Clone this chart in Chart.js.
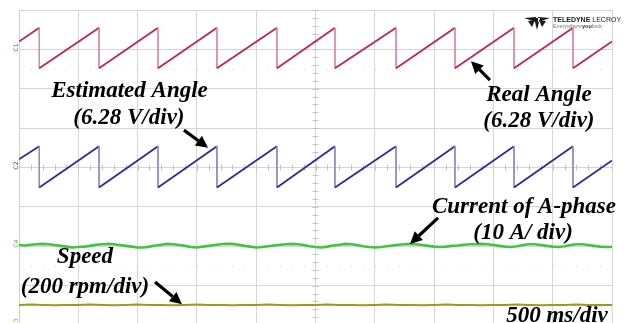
<!DOCTYPE html>
<html>
<head>
<meta charset="utf-8">
<script src="https://cdn.jsdelivr.net/npm/chart.js@4"></script>
<style>
  html, body { margin: 0; padding: 0; background: #fff; overflow: hidden; }
  #wrap { position: relative; width: 627px; height: 345px; }
</style>
</head>
<body>
<div id="wrap"><canvas id="scope" width="627" height="345"></canvas></div>
<script>
// time axis in ms, 500 ms/div, 10 divisions; vertical values in divisions
const xTicks = [0, 500, 1000, 1500, 2000, 2500, 3000, 3500, 4000, 4500, 5000];
const yTicks = [-4, -3, -2, -1, 0, 1, 2, 3, 4];

// sawtooth corners (ms) - reset instants of both angles
const angleTimes = [0, 171, 171, 675, 675, 1172, 1172, 1669, 1669, 2175, 2175, 2664, 2664,
  3179, 3179, 3676, 3676, 4174, 4174, 4671, 4671, 5000];
const realAngle = [3.20, 3.55, 2.52, 3.55, 2.52, 3.55, 2.52, 3.55, 2.52, 3.55, 2.52, 3.55, 2.52,
  3.55, 2.52, 3.55, 2.52, 3.55, 2.52, 3.55, 2.52, 3.20];
const estAngle = [0.21, 0.54, -0.51, 0.54, -0.51, 0.54, -0.51, 0.54, -0.51, 0.54, -0.51, 0.54, -0.51,
  0.54, -0.51, 0.54, -0.51, 0.54, -0.51, 0.54, -0.51, 0.18];

// current of A-phase, one sample every 50 ms
const currentA = [
  -1.97, -1.98, -1.96, -1.95, -1.94, -1.95, -1.97, -1.99, -2.01, -2.03,
  -2.02, -2.01, -1.99, -1.96, -1.95, -1.94, -1.95, -1.97, -1.99, -2.01,
  -2.03, -2.03, -2.01, -1.98, -1.96, -1.94, -1.95, -1.97, -1.99, -2.02,
  -2.03, -2.01, -1.99, -1.97, -1.95, -1.94, -1.94, -1.96, -1.99, -2.01,
  -2.03, -2.02, -2.00, -1.98, -1.96, -1.95, -1.94, -1.95, -1.97, -2.00,
  -2.02, -2.03, -2.01, -1.98, -1.96, -1.94, -1.95, -1.97, -2.00, -2.02,
  -2.03, -2.02, -2.00, -1.98, -1.96, -1.95, -1.94, -1.95, -1.97, -1.99,
  -2.01, -2.02, -2.01, -1.99, -1.98, -1.96, -1.95, -1.95, -1.94, -1.95,
  -1.97, -1.99, -2.01, -2.02, -2.00, -1.97, -1.95, -1.95, -1.97, -1.99,
  -2.01, -2.02, -2.00, -1.97, -1.95, -1.95, -1.97, -1.99, -2.01, -2.02,
  -2.02
];
// speed, one sample every 100 ms
const speed = [
  -3.49, -3.48, -3.49, -3.50, -3.49, -3.49, -3.48, -3.49, -3.50, -3.49,
  -3.48, -3.49, -3.49, -3.50, -3.49, -3.48, -3.49, -3.49, -3.50, -3.49,
  -3.49, -3.48, -3.49, -3.50, -3.49, -3.49, -3.48, -3.49, -3.49, -3.50,
  -3.49, -3.48, -3.49, -3.49, -3.50, -3.49, -3.48, -3.49, -3.49, -3.50,
  -3.49, -3.49, -3.48, -3.49, -3.50, -3.49, -3.49, -3.48, -3.49, -3.49,
  -3.49
];

const channelNames = ['C1', 'C2', 'C4', 'C3'];
const channelLevels = [3.05, 0.05, -1.93, -3.93];
const channelColors = ['#c8205a', '#2a2aa8', '#3cc83c', '#9a9a1e'];

const toPoints = (xs, ys) => ys.map((y, i) => ({ x: xs[i], y }));
const sampleTimes = (n, step) => Array.from({ length: n }, (_, i) => i * step);

const sawSegment = (thin) => ({
  borderWidth: (c) => (c.p0.parsed.x === c.p1.parsed.x ? 1 : 1.8),
  borderColor: (c) => (c.p0.parsed.x === c.p1.parsed.x ? thin : undefined),
});

// labels and arrows, placed in scale units
const labels = [
  { text: 'Estimated Angle', x: 932, y: 1.79 },
  { text: '(6.28 V/div)', x: 927, y: 1.10 },
  { text: 'Real Angle', x: 4384, y: 1.69 },
  { text: '(6.28 V/div)', x: 4384, y: 1.03 },
  { text: 'Current of A-phase', x: 4258, y: -1.16 },
  { text: '(10 A/ div)', x: 4250, y: -1.82 },
  { text: 'Speed', x: 556, y: -2.43 },
  { text: '(200 rpm/div)', x: 556, y: -3.19 },
  { text: '500 ms/div', x: 4536, y: -3.92 },
];
const arrows = [
  { x1: 1391, y1: 0.95, x2: 1594, y2: 0.50 },
  { x1: 3971, y1: 2.22, x2: 3811, y2: 2.70 },
  { x1: 3533, y1: -1.28, x2: 3297, y2: -1.94 },
  { x1: 1147, y1: -2.91, x2: 1374, y2: -3.47 },
];

function drawArrow(ctx, x1, y1, x2, y2) {
  const ang = Math.atan2(y2 - y1, x2 - x1);
  const hl = 12, hw = 6;
  const bx = x2 - hl * Math.cos(ang), by = y2 - hl * Math.sin(ang);
  ctx.beginPath();
  ctx.moveTo(x1, y1);
  ctx.lineTo(bx, by);
  ctx.lineWidth = 3.2;
  ctx.strokeStyle = '#000';
  ctx.stroke();
  ctx.beginPath();
  ctx.moveTo(x2, y2);
  ctx.lineTo(bx + hw * Math.sin(ang), by - hw * Math.cos(ang));
  ctx.lineTo(bx - hw * Math.sin(ang), by + hw * Math.cos(ang));
  ctx.closePath();
  ctx.fillStyle = '#000';
  ctx.fill();
}

const scopeDecor = {
  id: 'scopeDecor',
  beforeDatasetsDraw(chart) {
    const { ctx, scales: { x, y } } = chart;
    const cx = x.getPixelForValue(2500), cy = y.getPixelForValue(0);
    ctx.save();
    ctx.strokeStyle = '#c4c4c4';
    ctx.lineWidth = 1;
    ctx.beginPath();
    for (let v = -4; v <= 4.001; v += 0.2) {
      const py = Math.round(y.getPixelForValue(v)) + 0.5;
      ctx.moveTo(cx - 3, py); ctx.lineTo(cx + 3, py);
    }
    for (let t = 0; t <= 5000; t += 100) {
      const px = Math.round(x.getPixelForValue(t)) + 0.5;
      ctx.moveTo(px, cy - 3); ctx.lineTo(px, cy + 3);
    }
    ctx.stroke();
    ctx.fillStyle = '#d0d0d0';
    for (const lvl of [2.5, -2.5]) {
      const py = Math.round(y.getPixelForValue(lvl));
      for (let t = 100; t < 5000; t += 100) {
        ctx.fillRect(Math.round(x.getPixelForValue(t)), py, 1, 1);
      }
    }
    ctx.restore();
  },
  afterDraw(chart) {
    const { ctx, scales: { x, y } } = chart;
    ctx.save();
    // channel markers
    ctx.font = '6px "DejaVu Sans"';
    ctx.textAlign = 'center';
    ctx.textBaseline = 'middle';
    channelNames.forEach((n, i) => {
      ctx.save();
      ctx.translate(x.getPixelForValue(0) - 3, y.getPixelForValue(channelLevels[i]));
      ctx.rotate(-Math.PI / 2);
      ctx.fillStyle = channelColors[i];
      ctx.fillText(n, 0, 0);
      ctx.restore();
    });
    // logo
    ctx.fillStyle = '#1a1a1a';
    ctx.beginPath();
    ctx.moveTo(524, 18); ctx.lineTo(536, 17); ctx.lineTo(536, 22); ctx.closePath();
    ctx.moveTo(550, 18); ctx.lineTo(538, 17); ctx.lineTo(538, 22); ctx.closePath();
    ctx.moveTo(534, 18); ctx.lineTo(540, 18); ctx.lineTo(537, 30); ctx.closePath();
    ctx.moveTo(528, 21); ctx.lineTo(535, 20); ctx.lineTo(532, 27); ctx.closePath();
    ctx.moveTo(546, 21); ctx.lineTo(539, 20); ctx.lineTo(542, 27); ctx.closePath();
    ctx.fill();
    ctx.textAlign = 'left';
    ctx.textBaseline = 'alphabetic';
    ctx.font = 'bold 7px "Liberation Sans"';
    ctx.fillText('TELEDYNE', 553, 22);
    const w = ctx.measureText('TELEDYNE ').width;
    ctx.font = '7px "Liberation Sans"';
    ctx.fillText('LECROY', 553 + w, 22);
    ctx.font = '5.5px "Liberation Sans"';
    ctx.fillStyle = '#777';
    ctx.fillText('Everywhere', 553, 28);
    const w2 = ctx.measureText('Everywhere').width;
    ctx.font = 'bold 5.5px "Liberation Sans"';
    ctx.fillStyle = '#333';
    ctx.fillText('you', 553 + w2, 28);
    const w3 = ctx.measureText('you').width;
    ctx.font = '5.5px "Liberation Sans"';
    ctx.fillStyle = '#777';
    ctx.fillText('look', 553 + w2 + w3, 28);
    // annotations
    ctx.fillStyle = '#000';
    ctx.textAlign = 'center';
    ctx.font = 'italic bold 23px "Liberation Serif"';
    labels.forEach((l) => ctx.fillText(l.text, x.getPixelForValue(l.x), y.getPixelForValue(l.y)));
    arrows.forEach((a) => drawArrow(ctx,
      x.getPixelForValue(a.x1), y.getPixelForValue(a.y1),
      x.getPixelForValue(a.x2), y.getPixelForValue(a.y2)));
    ctx.restore();
  },
};

new Chart(document.getElementById('scope'), {
  type: 'line',
  data: {
    datasets: [
      {
        label: 'Real Angle',
        data: toPoints(angleTimes, realAngle),
        borderColor: '#c8205a',
        segment: sawSegment('#d88aa6'),
      },
      {
        label: 'Estimated Angle',
        data: toPoints(angleTimes, estAngle),
        borderColor: '#2a2aa8',
        segment: sawSegment('#8a8ac8'),
      },
      {
        label: 'Current of A-phase',
        data: toPoints(sampleTimes(currentA.length, 50), currentA),
        borderColor: '#3cc83c',
        borderWidth: 2.6,
      },
      {
        label: 'Speed',
        data: toPoints(sampleTimes(speed.length, 100), speed),
        borderColor: '#9a9a1e',
        borderWidth: 2,
      },
    ],
  },
  options: {
    responsive: false,
    animation: false,
    layout: { padding: { left: 19, top: 10, right: 15, bottom: 20 } },
    elements: { point: { radius: 0 }, line: { tension: 0, borderWidth: 1.8 } },
    plugins: { legend: { display: false }, tooltip: { enabled: false } },
    scales: {
      x: {
        type: 'linear',
        min: 0,
        max: 5000,
        afterBuildTicks: (s) => { s.ticks = xTicks.map((v) => ({ value: v })); },
        ticks: { display: false },
        grid: { color: '#d6d6d6', drawTicks: false },
        border: { color: '#cfcfcf' },
      },
      y: {
        min: -4,
        max: 4,
        afterBuildTicks: (s) => { s.ticks = yTicks.map((v) => ({ value: v })); },
        ticks: { display: false },
        grid: { color: '#d6d6d6', drawTicks: false },
        border: { color: '#cfcfcf' },
      },
    },
  },
  plugins: [scopeDecor],
});
</script>
</body>
</html>
